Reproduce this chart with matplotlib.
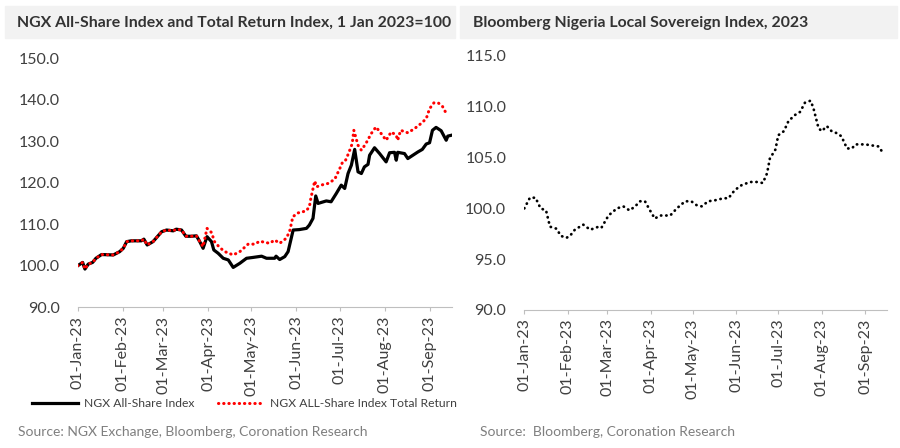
import numpy as np
import pandas as pd
import matplotlib
matplotlib.use("Agg")
import matplotlib.pyplot as plt
import matplotlib.dates as mdates

plt.rcParams["font.family"] = ["Lato", "DejaVu Sans"]

START = pd.Timestamp("2023-01-01")

# --- left chart: NGX All-Share Index (1 Jan 2023 = 100), day offsets from 1 Jan
asi_days = [0, 3.4, 5, 7.3, 10.3, 12.6, 16.5, 24.6, 29, 31.5, 33.8, 37, 44, 45.7, 48, 52,
            58, 61.4, 66, 68, 71.7, 74.7, 78.6, 82, 84.3, 86.6, 89.3, 92.4, 94, 97, 100.5,
            104, 107.4, 112, 116.6, 121, 127, 130.4, 136, 137, 139.5, 143, 145.3, 148.8,
            153, 158, 160, 162.5, 164.4, 166, 171.7, 175, 178.6, 182, 184.4, 186.7, 189,
            191.3, 193.6, 195.9, 198, 200.5, 201.6, 205, 208.5, 213, 215.4, 218.8, 220,
            221, 225.7, 228, 231.5, 235, 238, 240.7, 243, 245, 247.5, 251, 254.5, 255.6, 258]
asi_vals = [100.0, 100.8, 99.2, 100.4, 100.8, 101.8, 102.7, 102.6, 103.4, 104.2, 105.8,
            106.0, 106.0, 106.4, 105.0, 105.8, 108.2, 108.6, 108.4, 108.8, 108.6, 107.1,
            107.1, 107.2, 105.8, 104.2, 107.0, 105.8, 103.8, 103.0, 101.8, 101.4, 99.6,
            100.6, 101.8, 102.0, 102.3, 101.8, 101.8, 102.3, 101.5, 102.2, 103.4, 108.6,
            108.7, 109.0, 109.8, 111.4, 116.8, 115.0, 115.6, 115.4, 117.4, 119.4, 118.6,
            122.2, 124.2, 128.0, 122.6, 122.2, 123.8, 124.4, 126.6, 128.4, 127.0, 125.0,
            127.2, 127.3, 125.4, 127.3, 127.0, 125.8, 126.6, 127.4, 128.0, 129.3, 129.6,
            132.6, 133.3, 132.5, 130.2, 131.2, 131.4]

# --- left chart: NGX All-Share Index Total Return
tr_days = [0, 3.4, 5, 7.3, 10.3, 12.6, 16.5, 24.6, 29, 31.5, 33.8, 37, 44, 45.7, 48, 52,
           58, 61.4, 66, 68, 71.7, 74.7, 78.6, 82, 84.3, 86.6, 89.3, 92.4, 94.5, 98,
           101.6, 107.4, 112, 117.7, 122.3, 125.7, 132.6, 136, 139.5, 144, 146.3, 148.6,
           152, 157.8, 160, 161, 163.7, 165, 168, 172.8, 177.5, 181, 183, 185, 187, 189.6,
           190.7, 192, 193.6, 195.9, 199, 202.7, 206, 209.6, 213, 216.5, 220, 221, 223,
           228, 232.6, 237, 240.7, 243, 246, 249, 252, 254, 255.6]
tr_vals = [100.0, 100.8, 99.2, 100.4, 100.8, 101.8, 102.7, 102.6, 103.4, 104.2, 105.8,
           106.0, 106.0, 106.4, 105.0, 105.8, 108.2, 108.6, 108.4, 108.8, 108.6, 107.1,
           107.1, 107.2, 105.8, 104.6, 109.0, 108.0, 105.8, 104.4, 103.4, 102.6, 103.4,
           105.2, 105.2, 105.9, 105.4, 106.2, 105.4, 106.6, 108.2, 111.8, 112.7, 113.2,
           114.2, 116.2, 120.4, 119.0, 119.4, 119.8, 120.8, 123.4, 125.0, 125.4, 127.0,
           129.4, 132.6, 131.0, 129.0, 127.8, 129.4, 131.8, 133.4, 131.8, 130.2, 132.2,
           131.4, 130.2, 132.6, 132.0, 133.0, 134.2, 135.4, 137.8, 139.2, 139.2, 138.3,
           137.0, 137.6]

# --- right chart: Bloomberg Nigeria Local Sovereign Index
bond_days = [0, 4, 8, 11.6, 15.5, 18.3, 23, 26, 30, 32.6, 36, 42, 47, 53, 55, 60, 66,
             70.6, 75, 79, 82.5, 86, 89.6, 93, 96.8, 104, 108.7, 114.6, 119, 123, 126.5,
             131, 136, 142, 145.5, 150, 155, 161, 165.7, 170, 173, 175, 179, 181, 185,
             188.3, 193, 196.6, 200, 204, 206, 209.7, 212, 215.6, 219, 222.8, 226, 230,
             233.5, 236, 239.4, 243, 247.7, 252.4, 256]
bond_vals = [100.0, 101.05, 101.05, 100.0, 99.8, 98.2, 98.0, 97.3, 97.1, 97.3, 97.9,
             98.4, 97.9, 98.2, 98.1, 99.3, 100.0, 100.2, 99.8, 100.2, 100.7, 100.7, 99.8,
             99.0, 99.3, 99.3, 100.0, 100.7, 100.7, 100.3, 100.2, 100.7, 100.8, 101.0,
             101.0, 101.8, 102.3, 102.6, 102.6, 102.5, 103.45, 104.9, 105.8, 107.2, 107.6,
             108.6, 109.2, 109.5, 110.4, 110.6, 109.9, 107.9, 107.6, 108.1, 107.6, 107.4,
             107.1, 105.9, 105.9, 106.3, 106.3, 106.3, 106.2, 106.1, 105.4]

month_ticks = pd.date_range("2023-01-01", "2023-09-01", freq="MS")
X_END = START + pd.Timedelta(days=258.5)

TXT = "#404040"
GREY = "#7f7f7f"
AXIS = "#bfbfbf"


def to_dates(days):
    return START + pd.to_timedelta(np.array(days), unit="D")


def style_axis(ax, ylim, yticks):
    ax.set_xlim(START, X_END)
    ax.set_ylim(*ylim)
    ax.set_yticks(yticks)
    ax.set_yticklabels([f"{v:.1f}" for v in yticks])
    ax.set_xticks(month_ticks)
    ax.xaxis.set_major_formatter(mdates.DateFormatter("%d-%b-%y"))
    for lab in ax.get_xticklabels():
        lab.set_rotation(90)
    for s in ["top", "right", "left"]:
        ax.spines[s].set_visible(False)
    ax.spines["bottom"].set_color(AXIS)
    ax.tick_params(axis="y", length=0, pad=13, labelsize=11.5, labelcolor=TXT)
    ax.tick_params(axis="x", length=3, color=AXIS, pad=3, labelsize=11.5, labelcolor=TXT)


def main():
    fig = plt.figure(figsize=(9, 4.48), dpi=100)

    # title bars
    fig.patches.append(plt.Rectangle((5 / 900, 1 - 38 / 448), 450 / 900, 32 / 448,
                                     transform=fig.transFigure, color="#f2f2f2", zorder=0))
    fig.patches.append(plt.Rectangle((460 / 900, 1 - 38 / 448), 437 / 900, 32 / 448,
                                     transform=fig.transFigure, color="#f2f2f2", zorder=0))
    fig.text(17 / 900, 1 - 23 / 448, "NGX All-Share Index and Total Return Index, 1 Jan 2023=100",
             fontsize=11.4, fontweight="bold", color="#333333", va="center", ha="left")
    fig.text(473 / 900, 1 - 23 / 448, "Bloomberg Nigeria Local Sovereign Index, 2023",
             fontsize=11.4, fontweight="bold", color="#333333", va="center", ha="left")

    # left chart
    ax1 = fig.add_axes([77.7 / 900, 1 - 307.3 / 448, (452 - 77.7) / 900, (307.3 - 58) / 448])
    ax1.plot(to_dates(asi_days), asi_vals, color="black", lw=2.3,
             solid_joinstyle="round", label="NGX All-Share Index")
    ax1.plot(to_dates(tr_days), tr_vals, color="#ff0000", lw=2.2,
             linestyle=(0, (0.1, 1.6)), dash_capstyle="round",
             label="NGX ALL-Share Index Total Return")
    style_axis(ax1, (90, 150), [90, 100, 110, 120, 130, 140, 150])
    leg = ax1.legend(loc="center left", bbox_to_anchor=(-0.134, -0.385), ncol=2,
                     frameon=False, fontsize=8.7, handlelength=3.8, handletextpad=0.45,
                     columnspacing=2.0, borderaxespad=0)
    for t in leg.get_texts():
        t.set_color(TXT)

    # right chart
    ax2 = fig.add_axes([524.3 / 900, 1 - 310 / 448, (887 - 524.3) / 900, (310 - 56) / 448])
    ax2.plot(to_dates(bond_days), bond_vals, color="black", lw=2.0,
             linestyle=(0, (0.1, 1.8)), dash_capstyle="round")
    style_axis(ax2, (90, 115), [90, 95, 100, 105, 110, 115])

    fig.text(18 / 900, 1 - 432 / 448, "Source: NGX Exchange, Bloomberg, Coronation Research",
             fontsize=10, color=GREY, va="center", ha="left")
    fig.text(480 / 900, 1 - 432 / 448, "Source:  Bloomberg, Coronation Research",
             fontsize=10, color=GREY, va="center", ha="left")

    fig.savefig("out.png", dpi=100, facecolor="white")
    plt.close(fig)


if __name__ == "__main__":
    main()
